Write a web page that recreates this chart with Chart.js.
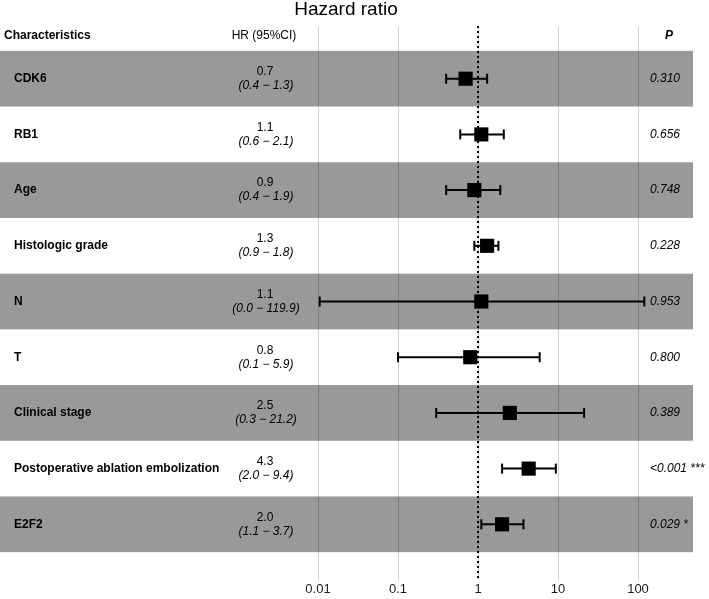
<!DOCTYPE html>
<html>
<head>
<meta charset="utf-8">
<script src="https://cdn.jsdelivr.net/npm/chart.js@4"></script>
<style>
  body { margin: 0; background: #fff; }
  #wrap { width: 709px; height: 599px; position: relative; }
</style>
</head>
<body>
<div id="wrap"><canvas id="forest"></canvas></div>
<script>
const characteristics = ["CDK6", "RB1", "Age", "Histologic grade", "N", "T", "Clinical stage", "Postoperative ablation embolization", "E2F2"];
const hr = [0.7, 1.1, 0.9, 1.3, 1.1, 0.8, 2.5, 4.3, 2.0];
const ciLow = [0.4, 0.6, 0.4, 0.9, 0.0105, 0.1, 0.3, 2.0, 1.1];
const ciHigh = [1.3, 2.1, 1.9, 1.8, 119.9, 5.9, 21.2, 9.4, 3.7];
const pValues = ["0.310", "0.656", "0.748", "0.228", "0.953", "0.800", "0.389", "<0.001 ***", "0.029 *"];
const tickValues = [0.01, 0.1, 1, 10, 100];
const tickLabels = ["0.01", "0.1", "1", "10", "100"];

const FONT = "'Liberation Sans', Arial, Helvetica, sans-serif";

// error bar lines, one dataset per row
const ciSets = characteristics.map((c, i) => ({
    type: 'line',
    data: [{x: ciLow[i], y: i}, {x: ciHigh[i], y: i}],
    borderColor: '#000',
    borderWidth: 2,
    pointStyle: 'line',
    pointRotation: 90,
    pointRadius: 5,
    pointBorderWidth: 2,
    pointBorderColor: '#000',
    pointHoverRadius: 5,
    order: 1
}));

const hrSet = {
    type: 'scatter',
    data: hr.map((v, i) => ({x: v, y: i})),
    pointStyle: 'rect',
    pointRadius: 10,
    pointHoverRadius: 10,
    backgroundColor: '#000',
    borderColor: '#000',
    borderWidth: 0,
    order: 0
};

const forestPlugin = {
    id: 'forest',
    beforeDraw(chart) {
        const {ctx, chartArea, scales} = chart;
        const y = scales.y;
        ctx.save();
        ctx.fillStyle = '#999999';
        characteristics.forEach((c, i) => {
            if (i % 2 !== 0) return;
            const top = y.getPixelForValue(i - 0.5);
            const bot = y.getPixelForValue(i + 0.5);
            ctx.fillRect(0, top, chartArea.right, bot - top);
        });
        ctx.restore();
    },
    beforeDatasetsDraw(chart) {
        const {ctx, chartArea, scales} = chart;
        const x1 = Math.round(scales.x.getPixelForValue(1));
        ctx.save();
        ctx.strokeStyle = '#000';
        ctx.lineWidth = 2;
        ctx.setLineDash([2, 3]);
        ctx.beginPath();
        ctx.moveTo(x1, chartArea.top);
        ctx.lineTo(x1, chartArea.bottom);
        ctx.stroke();
        ctx.restore();
    },
    afterDraw(chart) {
        const {ctx, scales} = chart;
        const y = scales.y;
        ctx.save();
        ctx.fillStyle = '#000';
        ctx.textBaseline = 'middle';

        // title
        ctx.textAlign = 'center';
        ctx.font = "19px " + FONT;
        ctx.fillText("Hazard ratio", 346, 10);

        // header
        const hy = y.getPixelForValue(-0.77);
        ctx.textAlign = 'left';
        ctx.font = "bold 12px " + FONT;
        ctx.fillText("Characteristics", 4, hy);
        ctx.textAlign = 'center';
        ctx.font = "12px " + FONT;
        ctx.fillText("HR (95%CI)", 264, hy);
        ctx.font = "italic bold 12px " + FONT;
        ctx.fillText("P", 669, hy);

        characteristics.forEach((c, i) => {
            const py = y.getPixelForValue(i);
            ctx.textAlign = 'left';
            ctx.font = "bold 12px " + FONT;
            ctx.fillText(c, 14, py);
            ctx.textAlign = 'center';
            ctx.font = "12px " + FONT;
            ctx.fillText(hr[i].toFixed(1), 265, py - 7);
            ctx.font = "italic 12px " + FONT;
            ctx.fillText("(" + ciLow[i].toFixed(1) + " \u2212 " + ciHigh[i].toFixed(1) + ")", 266, py + 7);
            ctx.textAlign = 'left';
            ctx.font = "italic 12px " + FONT;
            ctx.fillText(pValues[i], 650, py);
        });
        ctx.restore();
    }
};

new Chart(document.getElementById('forest').getContext('2d'), {
    data: {
        datasets: [hrSet, ...ciSets]
    },
    options: {
        responsive: true,
        maintainAspectRatio: false,
        animation: false,
        layout: { autoPadding: false, padding: { top: 26, left: 0, right: 16, bottom: 0 } },
        plugins: {
            legend: { display: false },
            tooltip: { enabled: false },
            title: { display: false }
        },
        scales: {
            x: {
                type: 'logarithmic',
                position: 'bottom',
                min: Math.pow(10, -2 - 318 / 80),
                max: Math.pow(10, 2 + 55 / 80),
                afterBuildTicks(scale) {
                    scale.ticks = tickValues.map(v => ({value: v}));
                },
                ticks: {
                    autoSkip: false,
                    maxRotation: 0,
                    padding: 3,
                    color: '#1a1a1a',
                    font: { family: FONT, size: 13, lineHeight: 1.0 },
                    callback: (v, idx) => tickLabels[idx]
                },
                grid: {
                    color: 'rgba(0,0,0,0.18)',
                    lineWidth: 1,
                    drawTicks: false
                },
                border: { display: false }
            },
            y: {
                type: 'linear',
                display: false,
                reverse: true,
                min: -53 / 56,
                max: 9.0
            }
        }
    },
    plugins: [forestPlugin]
});
</script>
</body>
</html>
